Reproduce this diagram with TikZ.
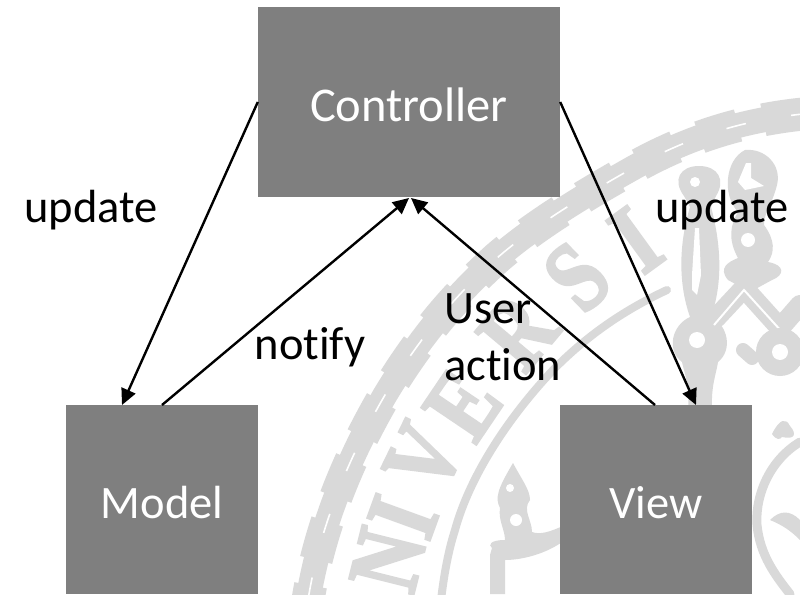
\documentclass[tikz,border=0pt]{standalone}
\usepackage{fontspec}
\setmainfont[Ligatures=NoCommon]{Carlito}
\newfontfamily\sealfont[BoldFeatures={FakeBold=3}]{Liberation Serif}
\usetikzlibrary{arrows.meta}
\definecolor{boxgray}{HTML}{7F7F7F}
\definecolor{sealgray}{HTML}{D9D9D9}
\tikzset{
  box/.style={fill=boxgray,text=white,inner sep=0pt,text height=37pt,text depth=0pt,font=\fontsize{46.5}{50}\selectfont},
  lab/.style={text=black,inner sep=0pt,font=\fontsize{46.5}{57}\selectfont},
  conn/.style={black,line width=2.4pt,-{Triangle[length=16pt,width=15pt]}},
  chainbase/.style={sealgray,line width=25pt,line cap=round},
  chainbump/.style={sealgray,line width=33pt,dash pattern=on 40pt off 26pt},
  chainslit/.style={white,line width=1.6pt,dash pattern=on 20pt off 46pt},
  ring/.style={sealgray,line width=8pt,line cap=round},
  seal/.style={fill=sealgray,draw=none},
  sealline/.style={sealgray,line cap=round,line join=round},
  sealletter/.style={text=sealgray,inner sep=0pt,font=\sealfont\bfseries\fontsize{100}{100}\selectfont}
}
\begin{document}
\begin{tikzpicture}[x=1pt,y=-1pt]
\useasboundingbox (0,0) rectangle (800,594);
\begin{scope}
\clip (0,0) rectangle (800,594);
\fill[white] (0,0) rectangle (800,594);
% seal: chain
\def\chainpath{(803,114) .. controls (745,120) and (690,136) .. (633,168) .. controls (585,195) and (535,225) .. (497,258) .. controls (450,300) and (415,345) .. (385,395) .. controls (350,455) and (320,525) .. (308,600)}
\draw[chainbase] \chainpath;
\draw[chainbump] \chainpath;
\draw[chainslit,dash phase=8pt] \chainpath;
% seal: inner ring
\draw[ring] (667,290) .. controls (620,312) and (585,338) .. (555,368) .. controls (510,415) and (470,475) .. (455,530) .. controls (448,552) and (444,575) .. (441,600);
% seal: letters
\node[sealletter,rotate=36,xscale=.8] (lI) at (636,240) {I};
\node[sealletter,rotate=44,xscale=.8] (lS) at (577,277) {S};
\node[sealletter,rotate=50,xscale=.8] (lR) at (518,332) {R};
\node[sealletter,rotate=56,xscale=.8] (lE) at (463,405) {E};
\node[sealletter,rotate=64,xscale=.8] (lV) at (424,458) {V};
\node[sealletter,rotate=70,xscale=.8] (lI2) at (403,517) {I};
\node[sealletter,rotate=76,xscale=.8] (lN) at (388,560) {N};
% seal: first mace
\fill[seal] (699,166) .. controls (718,166) and (726,180) .. (716,196) -- (711,207) .. controls (720,240) and (724,280) .. (711,317) .. controls (728,325) and (733,350) .. (718,362) .. controls (716,375) and (711,385) .. (712,410) -- (688,410) .. controls (690,385) and (684,372) .. (682,362) .. controls (666,350) and (672,325) .. (690,317) .. controls (677,280) and (680,240) .. (690,207) -- (684,196) .. controls (672,180) and (680,166) .. (699,166) -- cycle;
\fill[white] (695,182) circle (5pt);
\fill[white] (697,340) circle (8pt);
\fill[white] (695,228) -- (699,228) -- (701,275) -- (697,295) -- (692,290) -- (692,275) -- cycle;
% seal: second mace
\fill[seal] (745,150) .. controls (765,148) and (782,165) .. (777,185) .. controls (772,205) and (764,212) .. (764,225) .. controls (775,240) and (775,252) .. (768,262) .. controls (785,265) and (785,275) .. (772,280) -- (750,292) -- (728,280) .. controls (718,268) and (728,262) .. (738,258) .. controls (728,240) and (730,225) .. (738,212) .. controls (722,195) and (725,160) .. (745,150) -- cycle;
\fill[white] (746,163) -- (751,163) -- (751,178) -- (764,186) -- (745,190) -- (738,182) -- cycle;
\fill[white] (748,240) circle (7pt);
% seal: chevron
\draw[sealline,line width=20pt] (716,318) -- (744,288) -- (780,328) -- (800,305);
\draw[white,line width=2pt] (714,325) -- (744,290) -- (783,333);
\fill[seal] (780,352) circle (24pt);
\fill[white] (780,352) circle (8pt);
\draw[sealline,line width=14pt] (752,358) -- (743,350);
% seal: lower mace
\fill[seal] (513,463) .. controls (522,480) and (530,490) .. (530,500) .. controls (522,510) and (532,520) .. (532,532) .. controls (540,535) and (550,532) .. (565,525) -- (565,540) .. controls (545,555) and (520,560) .. (505,560) -- (505,594) -- (490,594) -- (490,555) -- (492,548) .. controls (488,545) and (490,540) .. (505,540) .. controls (505,530) and (498,520) .. (500,508) .. controls (495,498) and (497,490) .. (513,463) -- cycle;
\fill[white] (510,488) circle (4pt);
\fill[white] (516,520) circle (6pt);
% seal: inner medallion
\draw[sealline,line width=9pt] (800,442) .. controls (770,460) and (755,495) .. (757,525) .. controls (760,555) and (775,575) .. (790,594);
\fill[seal] (772,434) .. controls (780,418) and (786,418) .. (790,426) .. controls (797,434) and (795,440) .. (782,437) .. controls (780,440) and (776,440) .. (772,434) -- cycle;
\fill[seal] (770,520) .. controls (780,510) and (790,510) .. (800,520) -- (800,540) .. controls (790,530) and (782,525) .. (770,520) -- cycle;
\end{scope}
% boxes
\node[box,font=\fontsize{48.5}{50}\selectfont,text height=38pt,minimum width=302pt,minimum height=190pt] (ctrl) at (409,102) {Controller};
\node[box,minimum width=192pt,minimum height=189pt] (model) at (162,499.5) {Model};
\node[box,minimum width=192pt,minimum height=189pt] (view) at (656,499.5) {View};
% connector ends
\coordinate (mIn) at (122,405);
\coordinate (mOut) at (162,405);
\coordinate (vIn) at (696,405);
\coordinate (vOut) at (655,405);
\coordinate (cL) at (409,198);
\coordinate (cR) at (411,198);
\draw[conn] (ctrl.west) -- (mIn);
\draw[conn] (mOut) -- (cL);
\draw[conn] (vOut) -- (cR);
\draw[conn] (ctrl.east) -- (vIn);
% labels
\node[lab,anchor=base] (u1) at (91,222) {update};
\node[lab,anchor=base] (u2) at (722,222) {update};
\node[lab,anchor=base] (nt) at (310,359) {notify};
\node[lab,align=left,anchor=north west] (ua) at (444,293) {User\\action};
\end{tikzpicture}
\end{document}
